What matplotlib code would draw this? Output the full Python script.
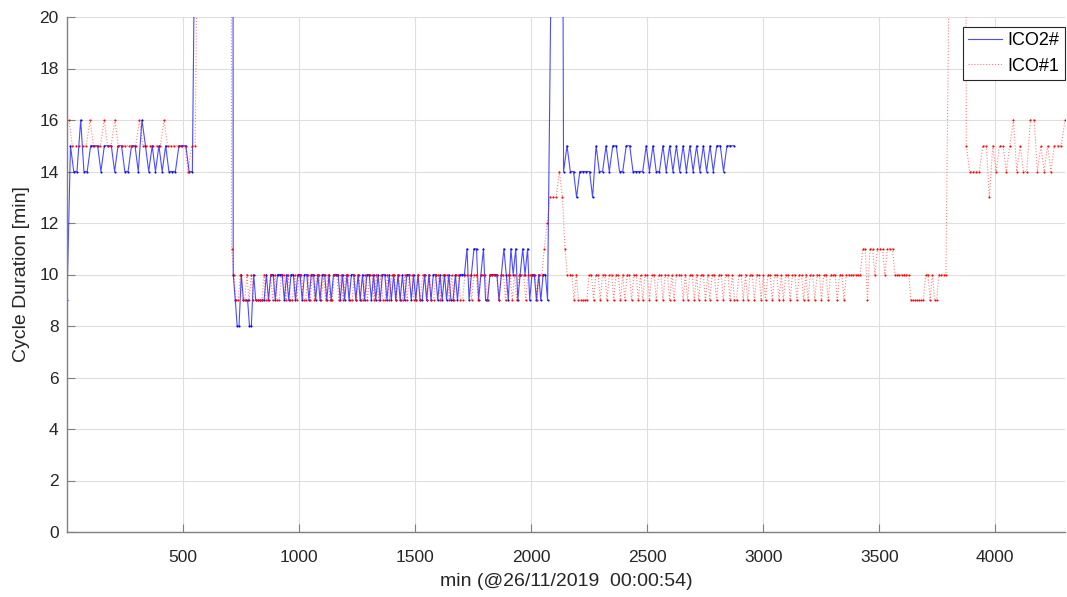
import numpy as np
import matplotlib.pyplot as plt

plt.rcParams['font.family'] = ['Liberation Sans', 'DejaVu Sans']

# cycle durations in minutes; each point is logged at the end of its cycle,
# so the time axis is the running sum of the durations
ico2_start = 1
ico2_run1 = [9, 15, 14, 14, 16, 14, 14, 15, 15, 15, 14, 15, 15, 15, 14, 15, 15, 14, 14, 15, 15,
             14, 16, 15, 14, 15, 14, 15, 14, 15, 14, 14, 14, 15, 15, 15, 14, 14]
ico2_stop1 = [166]
ico2_run2 = [10, 9, 8, 8, 10, 9, 9, 9, 8, 8, 10, 9, 9, 9,
             9, 9, 10, 9, 10, 10, 9, 10, 10, 10, 9, 10, 9, 10, 10, 9, 10, 10, 9, 10,
             10, 9, 10, 10, 9, 10, 9, 10, 10, 9, 10, 9, 10, 10, 10, 9, 10, 9, 10, 9,
             10, 10, 9, 10, 9, 10, 9, 10, 10, 9, 10, 9, 10, 9, 10, 10, 9, 10, 9, 10,
             9, 10, 9, 10, 9, 10, 10, 9, 10, 9, 10, 9, 9, 10, 9, 10, 9, 10, 10, 9,
             10, 9, 10, 9, 10, 9, 9, 10, 9, 10, 10,
             10, 11, 9, 10, 11, 11, 9, 10, 11, 9, 9, 10, 10, 10, 10, 9, 10, 11, 10, 9,
             11, 10, 11, 9, 10, 11, 10, 11, 9,
             10, 10, 9, 10, 9, 10, 10, 9]
ico2_stop2 = [55]
ico2_run3 = [14, 15, 14, 14, 13, 14, 14, 14, 14, 13, 15, 14, 14, 15, 14, 15, 15, 14, 14, 15,
             15, 14, 14, 14, 14, 15, 14, 15, 14, 14, 15, 14, 15, 14, 15, 14, 15, 14, 15, 14,
             15, 14, 15, 14, 15, 14, 15, 15, 14, 15, 15, 15]

ico1_start = 9
ico1_run1 = [16, 15, 15, 15, 15, 15, 16, 15, 15, 15, 16, 15, 15, 16, 15, 15, 15, 15, 15, 15,
             16, 15, 15, 15, 15, 15, 15, 16, 15, 15, 15, 15, 15, 15, 14, 15, 15]
ico1_stop1 = [146]
ico1_run2 = [11, 10, 9, 9, 10, 9, 9, 10, 9, 10, 9, 9, 9, 9, 9, 10, 9, 9,
             10, 9, 10, 9, 9, 10, 10, 9, 10, 9, 9, 10, 9, 10, 10, 9, 9, 10, 9, 10,
             9, 10, 10, 9, 10, 9, 10, 9, 9, 10, 10, 9, 10, 9, 10, 10, 9, 9, 10, 9,
             10, 9, 9, 10, 9, 10, 10, 9, 10, 9, 10, 9, 9, 10, 9, 10, 10, 9, 10, 9,
             9, 10, 9, 10, 10, 9, 9, 10, 9, 10, 10, 9, 10, 9, 9, 10, 10, 9, 10, 10,
             10, 9, 10, 9, 10, 10, 9, 9, 10, 10, 10, 9, 10, 10, 9, 10, 10, 10, 9, 10,
             10, 10, 10, 9, 10, 10, 9, 10, 10, 9, 10, 9, 10, 10, 10, 9, 10, 10,
             10, 10, 9, 10, 10, 11, 12, 13, 13, 13, 14, 13, 11,
             10, 10, 10, 9, 10, 9, 9, 9, 9, 9, 10, 10, 9, 10, 10, 9, 10, 10, 9, 10,
             10, 9, 10, 10, 9, 10, 9, 10, 10, 9, 10, 10, 9, 10, 9, 10, 10, 9, 10, 10,
             9, 10, 10, 9, 10, 10, 9, 10, 9, 10, 10, 10, 9, 10, 9, 10, 10, 9, 10, 9,
             10, 10, 9, 10, 9, 10, 10, 9, 10, 10, 9, 10, 10, 9, 10, 9, 9, 10, 10, 9,
             10, 9, 10, 10, 9, 10, 10, 9, 10, 9, 10, 10, 9, 10, 10, 9, 10, 9, 10, 10,
             9, 10, 10, 9, 10, 10, 9, 10, 9, 10, 10, 9, 10, 10, 9, 10, 10, 9, 10, 10,
             10, 9, 10, 10, 9, 10, 10, 10, 10, 10, 10, 10,
             11, 11, 9, 11, 11, 10, 11, 11, 11, 10, 11, 11, 11,
             10, 10, 10, 10, 10, 10, 10, 9, 9, 9, 9, 9, 9, 9, 10, 10, 9, 10, 9, 9,
             10, 10, 10, 10]
ico1_stop2 = [73]
ico1_run3 = [15, 14, 14, 14, 14, 15, 15, 13, 15, 14, 15, 15, 14, 15, 16, 14, 15, 14, 14, 16,
             16, 14, 15, 14, 15, 14, 15, 15, 15, 16]


def to_series(start, *parts):
    d = np.concatenate([np.asarray(p, dtype=float) for p in parts])
    t = start + np.concatenate([[0.0], np.cumsum(d[1:])])
    return t, d


t2, d2 = to_series(ico2_start, ico2_run1, ico2_stop1, ico2_run2, ico2_stop2, ico2_run3)
t1, d1 = to_series(ico1_start, ico1_run1, ico1_stop1, ico1_run2, ico1_stop2, ico1_run3)

fig = plt.figure(figsize=(10.67, 5.97), dpi=100)
ax = fig.add_axes([67 / 1067, 65 / 597, 998 / 1067, 515 / 597])

ax.plot(t2, d2, '-', color='#0000ff', lw=0.8, alpha=0.7, label='ICO2#')
ax.plot(t2, d2, '.', color='#0000ff', ms=3, mew=0)
ax.plot(t1, d1, ':', color='#ff0000', lw=0.8, alpha=0.5, label='ICO#1')
ax.plot(t1, d1, '.', color='#ff0000', ms=3, mew=0)

ax.set_xlim(min(t1.min(), t2.min()), max(t1.max(), t2.max()))
ax.set_ylim(0, 20)
ax.set_xticks(np.arange(500, 4001, 500))
ax.set_yticks(np.arange(0, 21, 2))
ax.grid(True, color='#dedede', lw=0.8)
ax.set_axisbelow(True)

for s in ['top', 'right']:
    ax.spines[s].set_visible(False)
for s in ['left', 'bottom']:
    ax.spines[s].set_color('#808080')
    ax.spines[s].set_linewidth(1.0)
ax.tick_params(direction='in', length=6, width=0.8, color='#808080',
               labelcolor='#262626', labelsize=12.5)
ax.tick_params(axis='x', pad=13)
ax.tick_params(axis='y', pad=6)

ax.set_xlabel('min (@26/11/2019  00:00:54)', fontsize=14, color='#262626', labelpad=6)
ax.set_ylabel('Cycle Duration [min]', fontsize=14, color='#262626', labelpad=7)

leg = ax.legend(loc='upper right', bbox_to_anchor=(1.0, 1 - 10 / 515), borderaxespad=0,
                fontsize=13, fancybox=False, framealpha=1, edgecolor='#262626',
                handlelength=1.9, handletextpad=0.3, borderpad=0.3, labelspacing=0.45)
leg.get_frame().set_linewidth(0.8)

fig.savefig('out.png', dpi=100)
